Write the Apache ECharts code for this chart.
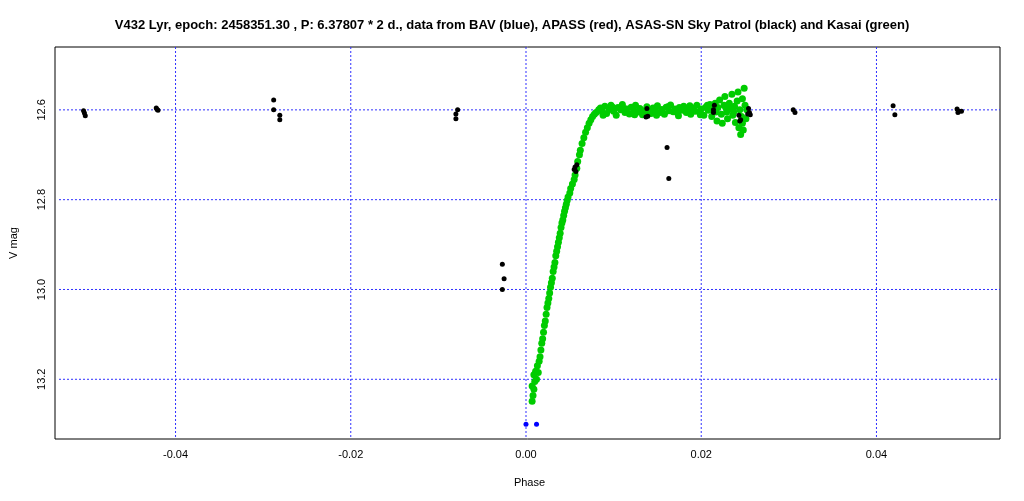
<!DOCTYPE html>
<html>
<head>
<meta charset="utf-8">
<script src="https://cdn.jsdelivr.net/npm/echarts@6/dist/echarts.min.js"></script>
<style>html,body{margin:0;padding:0;background:#fff}#main{width:1024px;height:501px}</style>
</head>
<body>
<div id="main"></div>
<script>
// tick positions
var xTicks = [-0.04, -0.02, 0, 0.02, 0.04];
var yTicks = [12.6, 12.8, 13.0, 13.2];
var xRange = [-0.0533, 0.0541];
var yRange = [12.46, 13.333];

// BAV (blue)
var bavData = [[0.0000, 13.300], [0.0012, 13.300]];

// ASAS-SN Sky Patrol (black)
var asasData = [
  [-0.0505, 12.602], [-0.0504, 12.607], [-0.0503, 12.613],
  [-0.0422, 12.596], [-0.0421, 12.599], [-0.0420, 12.601],
  [-0.0288, 12.578], [-0.0288, 12.600], [-0.0281, 12.612], [-0.0281, 12.622],
  [-0.0078, 12.600], [-0.0080, 12.609], [-0.0080, 12.620],
  [-0.0027, 12.944], [-0.0025, 12.976], [-0.0027, 13.000],
  [0.0055, 12.733], [0.0056, 12.727], [0.0058, 12.722], [0.0057, 12.737],
  [0.0138, 12.597], [0.0137, 12.616], [0.0139, 12.614],
  [0.0161, 12.684], [0.0163, 12.753],
  [0.0214, 12.600], [0.0214, 12.606], [0.0215, 12.590],
  [0.0243, 12.612], [0.0244, 12.625], [0.0245, 12.622],
  [0.0254, 12.597], [0.0255, 12.606], [0.0256, 12.611], [0.0253, 12.609],
  [0.0305, 12.600], [0.0307, 12.606],
  [0.0419, 12.591], [0.0421, 12.611],
  [0.0492, 12.598], [0.0494, 12.603], [0.0497, 12.603], [0.0493, 12.606]
];

// Kasai (green)
var kasaiData = [
  [0.0007, 13.249], [0.0008, 13.236], [0.0007, 13.215], [0.0009, 13.222], [0.0010, 13.205],
  [0.0009, 13.190], [0.0011, 13.182], [0.0012, 13.200], [0.0013, 13.170], [0.0014, 13.185],
  [0.0015, 13.160], [0.0016, 13.150], [0.0017, 13.135], [0.0018, 13.120], [0.0019, 13.110],
  [0.0020, 13.095], [0.0021, 13.080], [0.0022, 13.070], [0.0023, 13.055], [0.0024, 13.040],
  [0.0025, 13.030], [0.0026, 13.020], [0.0027, 13.008], [0.0028, 12.995], [0.0029, 12.985],
  [0.0030, 12.975], [0.0031, 12.960], [0.0032, 12.950], [0.0033, 12.940], [0.0034, 12.925],
  [0.0035, 12.915], [0.0036, 12.905], [0.0037, 12.895], [0.0038, 12.885], [0.0039, 12.875],
  [0.0040, 12.862], [0.0041, 12.852], [0.0042, 12.845], [0.0043, 12.835], [0.0044, 12.826],
  [0.0045, 12.818], [0.0046, 12.810], [0.0047, 12.802], [0.0048, 12.794], [0.0050, 12.785],
  [0.0051, 12.775], [0.0053, 12.765], [0.0055, 12.755], [0.0056, 12.745], [0.0058, 12.730],
  [0.0059, 12.715], [0.0061, 12.700], [0.0062, 12.690], [0.0064, 12.675], [0.0066, 12.662],
  [0.0068, 12.650], [0.0070, 12.640], [0.0072, 12.630], [0.0074, 12.622], [0.0076, 12.615],
  [0.0078, 12.610], [0.0080, 12.606], [0.0083, 12.600], [0.0085, 12.596], [0.0087, 12.604],
  [0.0090, 12.592], [0.0092, 12.608], [0.0095, 12.599], [0.0097, 12.590], [0.0100, 12.603],
  [0.0103, 12.612], [0.0105, 12.595], [0.0108, 12.600], [0.0110, 12.588], [0.0113, 12.606],
  [0.0115, 12.598], [0.0118, 12.609], [0.0120, 12.594], [0.0123, 12.601], [0.0125, 12.590],
  [0.0128, 12.605], [0.0130, 12.597], [0.0133, 12.611], [0.0135, 12.602], [0.0138, 12.593],
  [0.0140, 12.600], [0.0143, 12.608], [0.0145, 12.596], [0.0148, 12.603], [0.0150, 12.591],
  [0.0153, 12.606], [0.0155, 12.599], [0.0158, 12.610], [0.0160, 12.594], [0.0163, 12.602],
  [0.0165, 12.589], [0.0168, 12.604], [0.0170, 12.598], [0.0173, 12.607], [0.0175, 12.595],
  [0.0178, 12.601], [0.0180, 12.592], [0.0183, 12.606], [0.0185, 12.599], [0.0188, 12.610],
  [0.0190, 12.596], [0.0193, 12.603], [0.0195, 12.590], [0.0198, 12.605], [0.0200, 12.598],
  [0.0203, 12.612], [0.0205, 12.594], [0.0208, 12.601], [0.0210, 12.588], [0.0212, 12.615],
  [0.0214, 12.600], [0.0216, 12.585], [0.0218, 12.625], [0.0219, 12.595], [0.0221, 12.578],
  [0.0223, 12.610], [0.0224, 12.630], [0.0226, 12.590], [0.0227, 12.570], [0.0229, 12.605],
  [0.0230, 12.620], [0.0232, 12.585], [0.0233, 12.598], [0.0235, 12.565], [0.0236, 12.612],
  [0.0238, 12.592], [0.0239, 12.628], [0.0241, 12.580], [0.0242, 12.560], [0.0243, 12.640],
  [0.0244, 12.600], [0.0245, 12.655], [0.0246, 12.615], [0.0247, 12.575], [0.0248, 12.645],
  [0.0249, 12.552], [0.0250, 12.590], [0.0251, 12.620], [0.0252, 12.600],
  [0.0088, 12.612], [0.0099, 12.594], [0.0112, 12.597], [0.0124, 12.611], [0.0137, 12.605],
  [0.0149, 12.612], [0.0162, 12.593], [0.0174, 12.613], [0.0187, 12.591], [0.0199, 12.611],
  [0.0207, 12.590], [0.0217, 12.605], [0.0228, 12.595], [0.0237, 12.605], [0.0247, 12.630]
];

// dotted blue grid lines as plain line series
var gridSeries = [];
xTicks.forEach(function (v) {
  gridSeries.push([[v, yRange[0]], [v, yRange[1]]]);
});
yTicks.forEach(function (v) {
  gridSeries.push([[xRange[0], v], [xRange[1], v]]);
});
gridSeries = gridSeries.map(function (d) {
  return {type: 'line', data: d, symbol: 'none', silent: true, z: 1,
    lineStyle: {color: '#3030ff', type: [2, 2], width: 1}};
});

var font = 'Liberation Sans';
var chart = echarts.init(document.getElementById('main'));
chart.setOption({
  animation: false,
  title: {
    text: 'V432 Lyr, epoch: 2458351.30 , P: 6.37807 * 2 d., data from BAV (blue), APASS (red), ASAS-SN Sky Patrol (black) and Kasai (green)',
    left: 'center', top: 14,
    textStyle: {fontFamily: font, fontSize: 13, fontWeight: 'bold', color: '#000'}
  },
  grid: {left: 55, right: 24, top: 47, bottom: 62},
  xAxis: {
    type: 'value', min: xRange[0], max: xRange[1],
    name: 'Phase', nameLocation: 'middle', nameGap: 38,
    nameTextStyle: {fontFamily: font, fontSize: 11, color: '#000'},
    axisLine: {show: false, onZero: false},
    axisTick: {show: false},
    axisLabel: {customValues: xTicks, fontFamily: font, fontSize: 11, color: '#000', margin: 10,
      formatter: function (v) { return v === 0 ? '0.00' : v.toFixed(2); }},
    splitLine: {show: false}
  },
  yAxis: {
    type: 'value', inverse: true, min: yRange[0], max: yRange[1],
    name: 'V mag', nameLocation: 'middle', nameGap: 40, nameRotate: 90,
    nameTextStyle: {fontFamily: font, fontSize: 11, color: '#000'},
    axisLine: {show: false, onZero: false},
    axisTick: {show: false},
    axisLabel: {customValues: yTicks, rotate: 90, fontFamily: font, fontSize: 11, color: '#000', margin: 12,
      formatter: function (v) { return v.toFixed(1); }},
    splitLine: {show: false}
  },
  series: gridSeries.concat([
    {type: 'scatter', data: kasaiData, symbolSize: 7, z: 3, itemStyle: {color: '#00cc00', opacity: 1}},
    {type: 'scatter', data: asasData, symbolSize: 5, z: 4, itemStyle: {color: '#000', opacity: 1}},
    {type: 'scatter', data: bavData, symbolSize: 5, z: 4, itemStyle: {color: '#0000ff', opacity: 1}}
  ]),
  graphic: [{type: 'rect', shape: {x: 55, y: 47, width: 945, height: 392}, silent: true,
    style: {fill: 'none', stroke: '#000', lineWidth: 1}}]
});
</script>
</body>
</html>
